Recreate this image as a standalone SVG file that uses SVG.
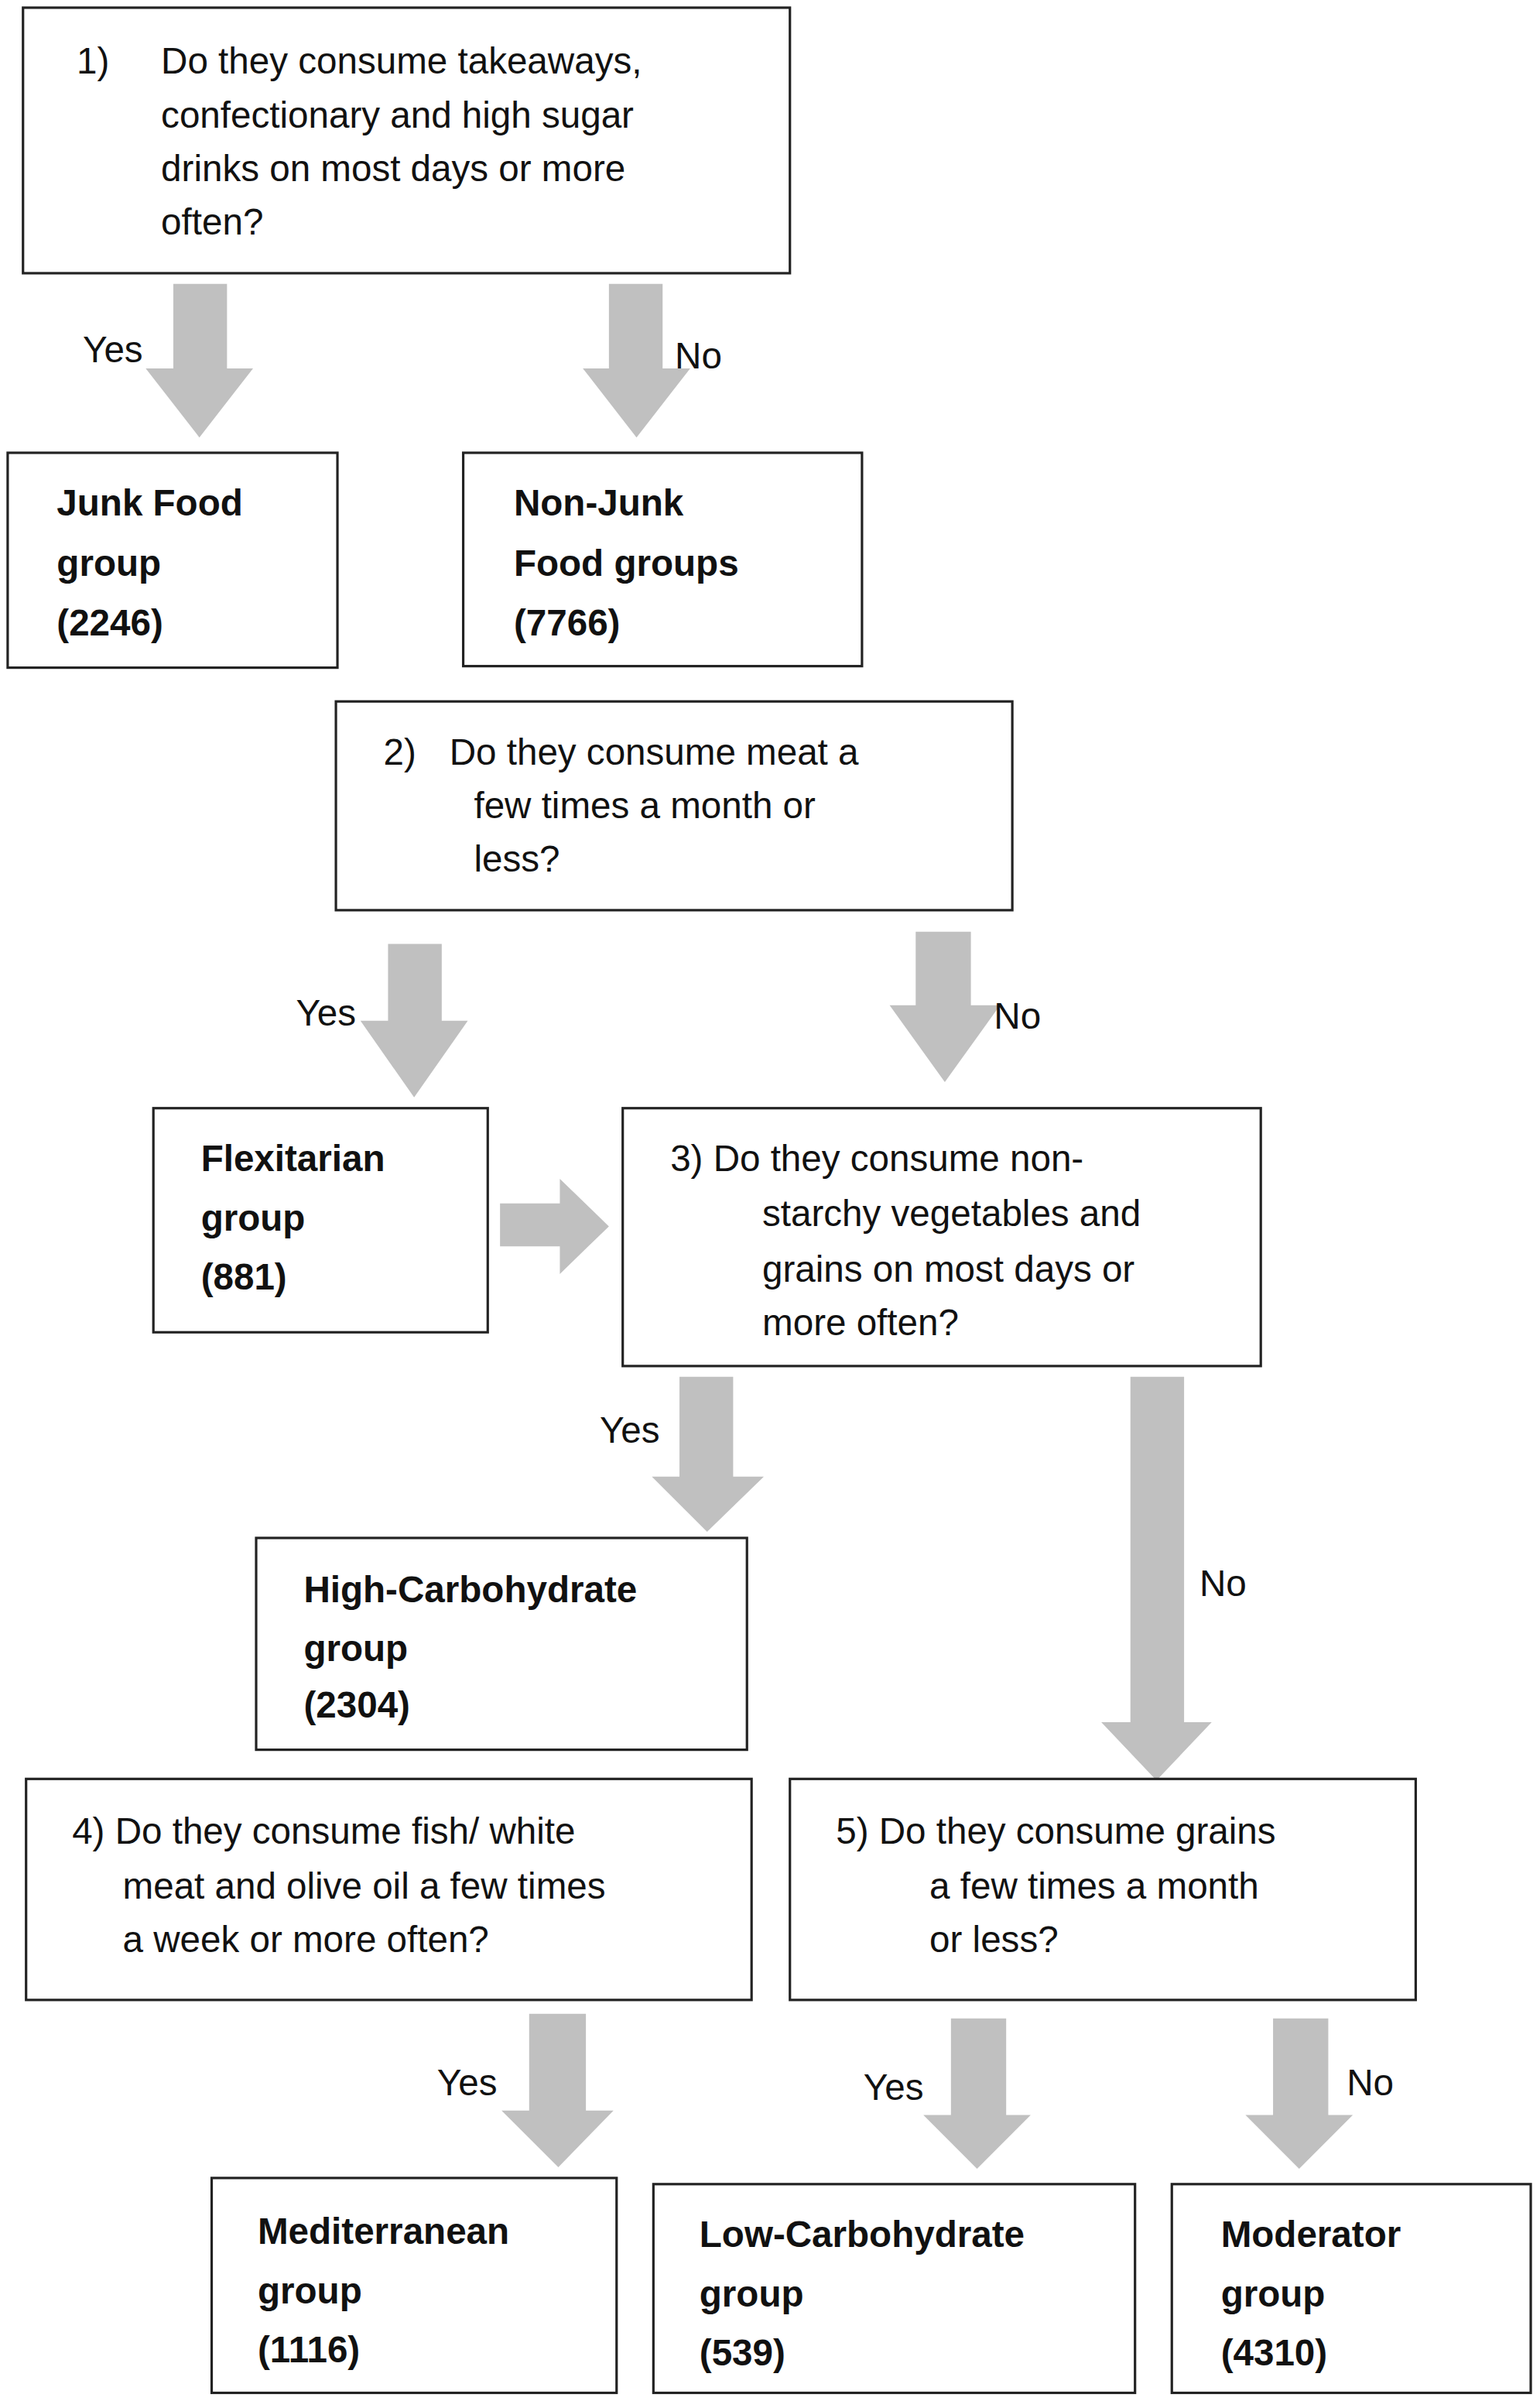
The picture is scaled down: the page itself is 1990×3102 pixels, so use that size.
<svg xmlns="http://www.w3.org/2000/svg" width="1990" height="3102" viewBox="0 0 1990 3102">
<style>
.b{fill:#fff;stroke:#222;stroke-width:1.6}
.a{fill:#c0c0c0}
text{font-family:"Liberation Sans",Arial,sans-serif;font-size:24px;fill:#111}
.t{font-weight:bold}
</style>
<rect width="1990" height="3102" fill="#fff"/>
<g transform="scale(1.982,1.983)">
<g id="connectors">
<path class="a" d="M113,185H148V240H165L130,285L95,240H113Z"/>
<path class="a" d="M397,185H432V240H450L415,285L380,240H397Z"/>
<path class="a" d="M253,615H288V665H305L270,715L235,665H253Z"/>
<path class="a" d="M597,607H633V655H652L616,705L580,655H597Z"/>
<path class="a" d="M326,784H365V768L397,799L365,830V812H326Z"/>
<path class="a" d="M443,897H478V962H498L461,998L425,962H443Z"/>
<path class="a" d="M737,897H772V1122H790L754,1160L718,1122H737Z"/>
<path class="a" d="M345,1312H382V1375H400L364,1412L327,1375H345Z"/>
<path class="a" d="M620,1315H656V1378H672L637,1413L602,1378H620Z"/>
<path class="a" d="M830,1315H866V1378H882L847,1413L812,1378H830Z"/>
<text x="54" y="236">Yes</text><text x="440" y="240">No</text>
<text x="193" y="668">Yes</text><text x="648" y="670">No</text>
<text x="391" y="940">Yes</text><text x="782" y="1040">No</text>
<text x="285" y="1365">Yes</text><text x="563" y="1368">Yes</text><text x="878" y="1365">No</text>
</g>
<g id="q1"><rect class="b" x="15" y="5" width="500" height="173"/>
<text x="50" y="48">1)</text><text x="105" y="48">Do they consume takeaways,</text><text x="105" y="83">confectionary and high sugar</text><text x="105" y="118">drinks on most days or more</text><text x="105" y="153">often?</text></g>
<g id="junk"><rect class="b" x="5" y="295" width="215" height="140"/>
<text class="t" x="37" y="336">Junk Food</text><text class="t" x="37" y="375">group</text><text class="t" x="37" y="414">(2246)</text></g>
<g id="nonjunk"><rect class="b" x="302" y="295" width="260" height="139"/>
<text class="t" x="335" y="336">Non-Junk</text><text class="t" x="335" y="375">Food groups</text><text class="t" x="335" y="414">(7766)</text></g>
<g id="q2"><rect class="b" x="219" y="457" width="441" height="136"/>
<text x="250" y="498">2)</text><text x="293" y="498">Do they consume meat a</text><text x="309" y="533">few times a month or</text><text x="309" y="568">less?</text></g>
<g id="flex"><rect class="b" x="100" y="722" width="218" height="146"/>
<text class="t" x="131" y="763">Flexitarian</text><text class="t" x="131" y="802">group</text><text class="t" x="131" y="840">(881)</text></g>
<g id="q3"><rect class="b" x="406" y="722" width="416" height="168"/>
<text x="437" y="763">3) Do they consume non-</text><text x="497" y="799">starchy vegetables and</text><text x="497" y="835">grains on most days or</text><text x="497" y="870">more often?</text></g>
<g id="highcarb"><rect class="b" x="167" y="1002" width="320" height="138"/>
<text class="t" x="198" y="1044">High-Carbohydrate</text><text class="t" x="198" y="1082">group</text><text class="t" x="198" y="1119">(2304)</text></g>
<g id="q4"><rect class="b" x="17" y="1159" width="473" height="144"/>
<text x="47" y="1201">4) Do they consume fish/ white</text><text x="80" y="1237">meat and olive oil a few times</text><text x="80" y="1272">a week or more often?</text></g>
<g id="q5"><rect class="b" x="515" y="1159" width="408" height="144"/>
<text x="545" y="1201">5) Do they consume grains</text><text x="606" y="1237">a few times a month</text><text x="606" y="1272">or less?</text></g>
<g id="med"><rect class="b" x="138" y="1419" width="264" height="140"/>
<text class="t" x="168" y="1462">Mediterranean</text><text class="t" x="168" y="1501">group</text><text class="t" x="168" y="1539">(1116)</text></g>
<g id="lowcarb"><rect class="b" x="426" y="1423" width="314" height="136"/>
<text class="t" x="456" y="1464">Low-Carbohydrate</text><text class="t" x="456" y="1503">group</text><text class="t" x="456" y="1541">(539)</text></g>
<g id="moderator"><rect class="b" x="764" y="1423" width="234" height="136"/>
<text class="t" x="796" y="1464">Moderator</text><text class="t" x="796" y="1503">group</text><text class="t" x="796" y="1541">(4310)</text></g>
</g>
</svg>
